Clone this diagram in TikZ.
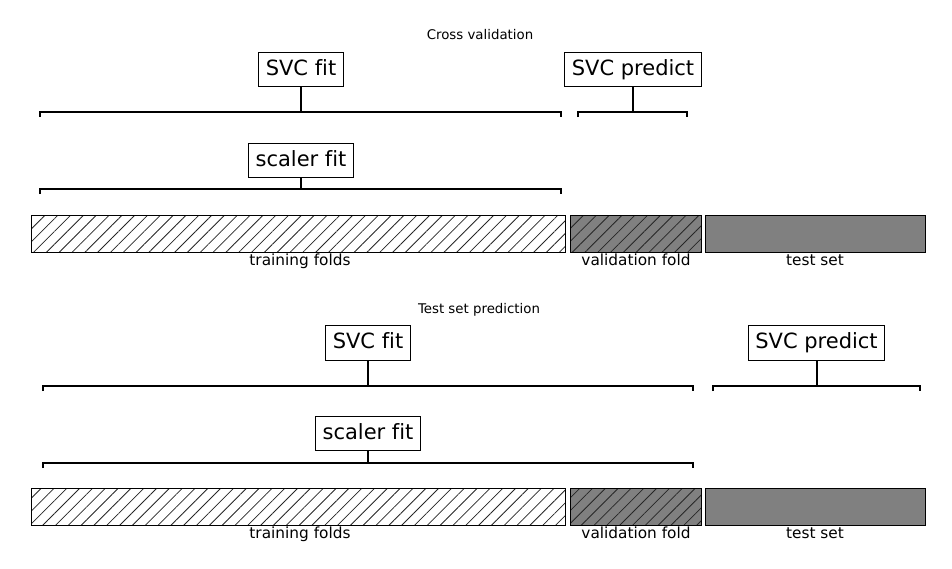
\documentclass[tikz,border=0pt]{standalone}
\usepackage{fontspec}
\setmainfont[Ligatures=NoCommon]{DejaVu Sans}
\usetikzlibrary{patterns.meta}
\tikzset{
  fitbox/.style={draw, line width=0.75pt, fill=white, font=\fontsize{15.75}{18}\selectfont,
    inner xsep=5.25pt, minimum height=25.8pt, text height=11.5pt, text depth=3.2pt},
  title/.style={font=\fontsize{10}{12}\selectfont, inner sep=0pt},
  foldlab/.style={anchor=north, font=\fontsize{11.5}{13}\selectfont, inner sep=1.2pt,
    text height=8.8pt, text depth=2.6pt},
  brack/.style={line width=1.5pt, line cap=butt},
  stem/.style={line width=1.5pt},
  hatch/.style={pattern={Lines[angle=45, distance=6.8pt, line width=0.6pt]}, pattern color=black!85},
  trainbar/.style={draw, line width=0.75pt, hatch},
  valbar/.style={draw, line width=0.75pt, preaction={fill=black!50}, hatch},
  testbar/.style={draw, line width=0.75pt, fill=black!50}
}
\begin{document}
\begin{tikzpicture}[x=0.75pt, y=-0.75pt]
  \useasboundingbox (0,0) rectangle (952,568);
  % titles
  \node[title] (cvtitle) at (480,35) {Cross validation};
  \node[title] (testtitle) at (479,310) {Test set prediction};
  % brackets
  \foreach \a/\b/\y in {40/561/112, 578/687/112, 40/561/189, 43/693/386, 713/920/386, 43/693/463}
    \draw[brack] (\a,\y+5) -- (\a,\y) -- (\b,\y) -- (\b,\y+5);
  % folds
  \foreach \y in {215, 488} {
    \draw[trainbar] (31,\y) rectangle (565.5,\y+37);
    \draw[valbar] (570.5,\y) rectangle (701,\y+37);
    \draw[testbar] (705.3,\y) rectangle (925.5,\y+37);
  }
  \node[foldlab] (trainlabA) at (300,252) {training folds};
  \node[foldlab] (vallabA) at (636,252) {validation fold};
  \node[foldlab] (testlabA) at (815,252) {test set};
  \node[foldlab] (trainlabB) at (300,525) {training folds};
  \node[foldlab] (vallabB) at (636,525) {validation fold};
  \node[foldlab] (testlabB) at (815,525) {test set};
  % cross validation
  \node[fitbox] (svcfitA) at (301,69.5) {SVC fit};
  \node[fitbox] (svcpredA) at (633,69.5) {SVC predict};
  \node[fitbox] (scalerA) at (301,160.5) {scaler fit};
  \coordinate (svcfitAbr) at (301,112);
  \coordinate (svcpredAbr) at (633,112);
  \coordinate (scalerAbr) at (301,189);
  \draw[stem] (svcfitA) -- (svcfitAbr);
  \draw[stem] (svcpredA) -- (svcpredAbr);
  \draw[stem] (scalerA) -- (scalerAbr);
  % test set prediction
  \node[fitbox] (svcfitB) at (368,343) {SVC fit};
  \node[fitbox] (svcpredB) at (816.5,343) {SVC predict};
  \node[fitbox] (scalerB) at (368,433.7) {scaler fit};
  \coordinate (svcfitBbr) at (368,386);
  \coordinate (svcpredBbr) at (816.5,386);
  \coordinate (scalerBbr) at (368,463);
  \draw[stem] (svcfitB) -- (svcfitBbr);
  \draw[stem] (svcpredB) -- (svcpredBbr);
  \draw[stem] (scalerB) -- (scalerBbr);
\end{tikzpicture}
\end{document}
